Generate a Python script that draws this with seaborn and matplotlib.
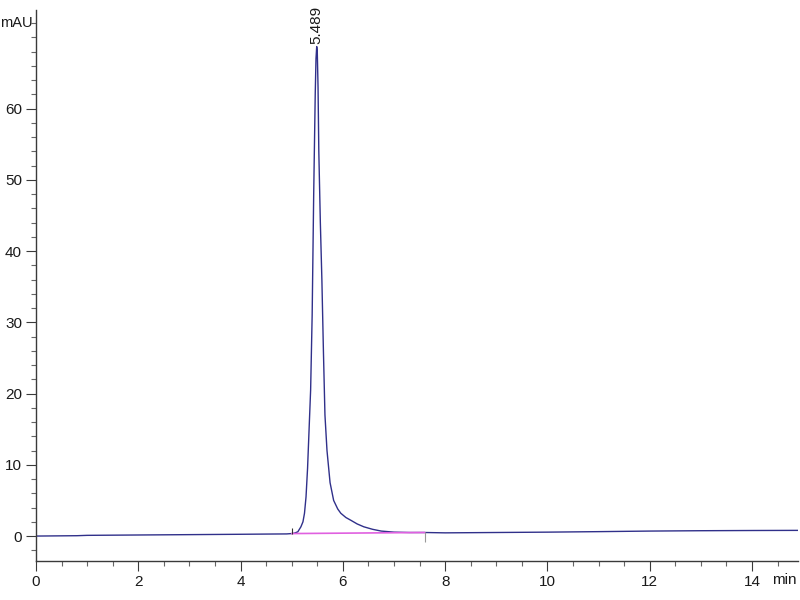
import matplotlib
matplotlib.use("Agg")
import matplotlib.pyplot as plt
import matplotlib.transforms as mtransforms
from matplotlib.ticker import MultipleLocator
import pandas as pd
import seaborn as sns

# chromatogram trace (time in min, signal in mAU)
time_min = [0.0, 0.8, 1.0, 2.0, 3.0, 4.0, 4.5, 4.9, 5.0, 5.05, 5.12, 5.18,
            5.22, 5.25, 5.28, 5.31, 5.34, 5.37, 5.40, 5.43, 5.46, 5.475,
            5.489, 5.50, 5.515, 5.53, 5.56, 5.59, 5.62, 5.65, 5.69, 5.75,
            5.82, 5.90, 5.96, 6.06, 6.16, 6.28, 6.41, 6.58, 6.75, 7.0,
            7.3, 7.6, 8.0, 9.0, 10.0, 11.0, 12.0, 13.0, 14.0, 15.0]
signal_mau = [0.0, 0.05, 0.1, 0.15, 0.2, 0.25, 0.28, 0.3, 0.35, 0.4, 0.6, 1.3,
              2.0, 3.2, 5.5, 9.5, 15.0, 20.5, 31.0, 48.0, 62.0, 67.0,
              68.7, 68.0, 63.0, 54.0, 44.0, 36.0, 26.0, 17.0, 12.0, 7.5,
              5.0, 3.8, 3.2, 2.6, 2.2, 1.7, 1.3, 0.95, 0.7, 0.55,
              0.5, 0.5, 0.45, 0.5, 0.55, 0.62, 0.7, 0.75, 0.78, 0.8]

# integration baseline under the peak
base_time = [5.0, 7.6]
base_mau = [0.35, 0.5]

# integration event marks
event_time = [5.0, 7.6]
event_top = [1.2, 0.5]
event_bottom = [0.3, -0.9]

peak_rt = 5.489
peak_height = 68.7

y_major = [0, 10, 20, 30, 40, 50, 60]

df = pd.DataFrame({"time": time_min, "signal": signal_mau})

sns.set_style("ticks")
plt.rcParams['font.family'] = ['Liberation Sans', 'DejaVu Sans']

axis_col = "#3a3a3a"
trace_col = "#30308a"
text_col = "#1a1a1a"

fig = plt.figure(figsize=(8, 6), dpi=100)
ax = fig.add_axes([0.045, 0.065, 0.9525, 0.918])

sns.lineplot(data=df, x="time", y="signal", color=trace_col, linewidth=1.0,
             estimator=None, sort=False, ax=ax)
ax.plot(base_time, base_mau, color="#e060e0", linewidth=1.2)
ax.vlines(event_time, event_bottom, event_top, colors=["#333333", "#999999"],
          linewidth=0.8)

ax.text(peak_rt, peak_height + 0.3, f"{peak_rt:.3f}", rotation=90,
        ha="center", va="bottom", fontsize=11, color=text_col)

ax.set_xlim(0, 14.9)
ax.set_ylim(-3.5, 73.8)
ax.xaxis.set_major_locator(MultipleLocator(2))
ax.xaxis.set_minor_locator(MultipleLocator(0.5))
ax.set_yticks(y_major)
ax.yaxis.set_minor_locator(MultipleLocator(2))

ax.tick_params(which="major", direction="out", length=7, width=0.8,
               color=axis_col, labelsize=11, labelcolor=text_col, pad=3)
ax.tick_params(which="minor", direction="out", length=3.5, width=0.8,
               color="#666666")
ax.set_xlabel("")
ax.set_ylabel("")

for side in ["top", "right"]:
    ax.spines[side].set_visible(False)
for side in ["left", "bottom"]:
    ax.spines[side].set_color(axis_col)
    ax.spines[side].set_linewidth(1.0)

# unit labels placed like the instrument software does
ytrans = mtransforms.blended_transform_factory(fig.transFigure, ax.transData)
fig.text(0.0, 72, "mAU", transform=ytrans, ha="left", va="center",
         fontsize=10.5, color=text_col)
ax.annotate("min", xy=(1, 0), xycoords="axes fraction", xytext=(-1, -14),
            textcoords="offset points", ha="right", va="center",
            fontsize=11, color=text_col)

fig.savefig("out.png", dpi=100)
